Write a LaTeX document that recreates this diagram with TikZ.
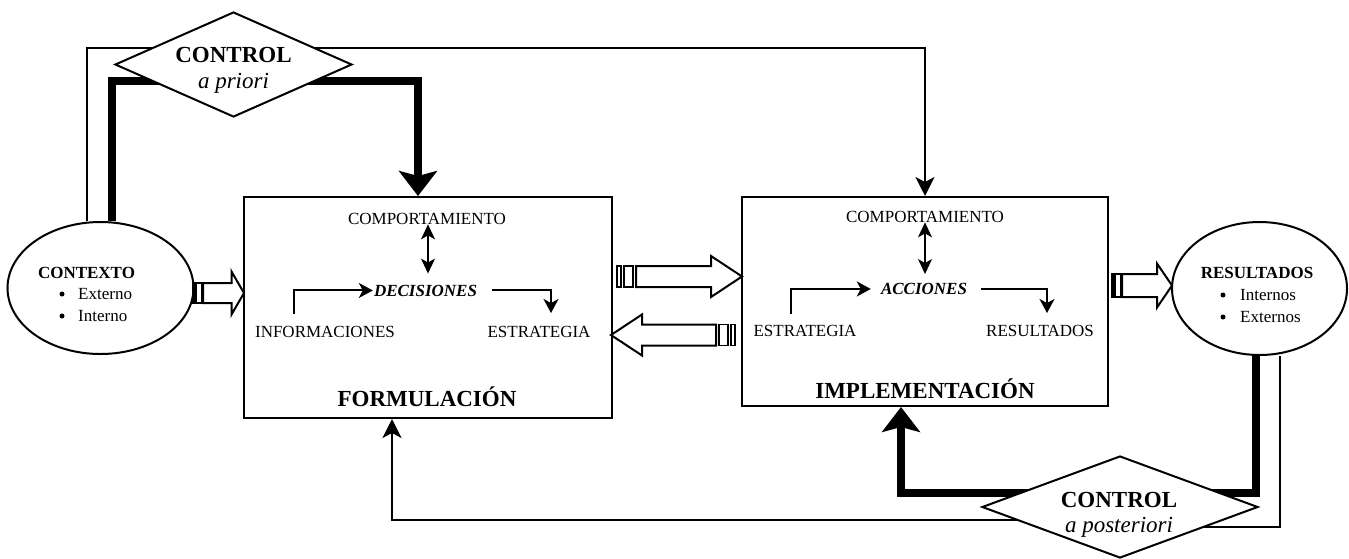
\documentclass[tikz,border=0pt]{standalone}
\usepackage{fontspec}
\setmainfont{Liberation Serif}
\usetikzlibrary{shapes.geometric,arrows.meta,calc}
\newcommand\blkarrow[9]{%
 \begin{scope}[shift={(#1,#2)},xscale=#3]
  \draw[line width=2pt,fill=white] (0,0) -- (-#4,#6) -- (-#4,#7) -- (-#5,#7) -- (-#5,-#7) -- (-#4,-#7) -- (-#4,-#6) -- cycle;
  \draw[line width=1.6pt,fill=white] ({-#5-0.75*#9},#7) rectangle ({-#5-0.75*#9-#8},-#7);
  \draw[line width=1.6pt,fill=white] ({-#5-1.5*#9-#8},#7) rectangle ({-#5-1.5*#9-#8-#9},-#7);
 \end{scope}}
\begin{document}
\begin{tikzpicture}[x=1pt,y=-1pt,
  txt/.style={inner sep=0pt, anchor=base, font=\fontsize{17}{20}\selectfont},
  bigtxt/.style={inner sep=0pt, anchor=base, font=\fontsize{23}{27}\selectfont},
  bul/.style={circle, fill=black, inner sep=0pt, minimum size=5pt},
  inarr/.style={line width=2pt, -{Stealth[width=15pt,length=14pt,inset=4pt]}},
  dblarr/.style={line width=1.3pt, {Stealth[width=14pt,length=15pt,inset=4pt]}-{Stealth[width=14pt,length=15pt,inset=4pt]}},
  longarr/.style={line width=2pt, -{Stealth[width=19pt,length=19pt,inset=5pt]}},
  bigarr/.style={line width=8pt, -{Stealth[width=38pt,length=25pt,inset=5pt]}},
  boxnode/.style={draw, line width=2pt, inner sep=0pt},
  ellnode/.style={draw, ellipse, line width=2pt, inner sep=0pt},
  dianode/.style={draw, diamond, fill=white, line width=2pt, inner sep=0pt},
]
\useasboundingbox (0,0) rectangle (1349,558);

% main shapes
\node[ellnode, minimum width=186pt, minimum height=132pt] (ctx) at (100.5,288) {};
\node[ellnode, minimum width=175pt, minimum height=133pt] (res) at (1259.5,288.5) {};
\node[boxnode, minimum width=368pt, minimum height=221pt] (form) at (428,307.5) {};
\node[boxnode, minimum width=366pt, minimum height=209pt] (impl) at (925,301.5) {};

% helper coordinates for the long connectors
\coordinate (tl) at (87,48);
\coordinate (tk) at (112,81);
\coordinate (bk) at (1256,493);
\coordinate (bt) at (1280,527);
\coordinate (bm) at (1120,520);
\coordinate (bl) at (392,520);

% long connectors
\draw[longarr] (ctx.north -| tl) -- (tl) -| (impl.north);
\draw[bigarr] (ctx.north -| tk) -- (tk) -| ($(form.north)+(-10,0)$);
\draw[bigarr] (res.south -| bk) -- (bk) -| ($(impl.south)+(-24,0)$);
\draw[longarr] (res.south -| bt) -- (bt) -| (bm) -- (bl) -- (form.south -| bl);

% diamonds
\node[dianode, minimum width=237pt, minimum height=105pt] (capri) at (233.5,64.5) {};
\node[dianode, minimum width=276pt, minimum height=102pt] (cpost) at (1120,507) {};
\node[bigtxt, font=\fontsize{23}{27}\selectfont\bfseries] (capri1) at (233.5,62.5) {CONTROL};
\node[bigtxt, font=\fontsize{23}{27}\selectfont\itshape] (capri2) at (233.5,88) {a priori};
\node[bigtxt, font=\fontsize{23}{27}\selectfont\bfseries] (cpost1) at (1119,507) {CONTROL};
\node[bigtxt, font=\fontsize{23}{27}\selectfont\itshape] (cpost2) at (1119,532) {a posteriori};

% block arrows
\blkarrow{244}{293}{1}{12.5}{41}{21.5}{10}{5}{2}
\blkarrow{742}{276.5}{1}{31}{106}{20.5}{10.5}{9}{4}
\blkarrow{611}{335}{-1}{31}{105}{20.5}{10.5}{9}{4}
\blkarrow{1172}{285.5}{1}{15}{50}{22}{11.5}{5}{2}

% CONTEXTO
\node[txt, font=\fontsize{17}{20}\selectfont\bfseries] (ctxt) at (86.5,278) {CONTEXTO};
\node[bul] (cb1) at (62,294) {};
\node[bul] (cb2) at (62,316) {};
\node[txt, anchor=base west] (cext) at (78,299) {Externo};
\node[txt, anchor=base west] (cint) at (78,321) {Interno};

% RESULTADOS ellipse
\node[txt, font=\fontsize{17}{20}\selectfont\bfseries] (rest) at (1257,278) {RESULTADOS};
\node[bul] (rb1) at (1223,295) {};
\node[bul] (rb2) at (1223,317) {};
\node[txt, anchor=base west] (rint) at (1240,300) {Internos};
\node[txt, anchor=base west] (rext) at (1240,322) {Externos};

% FORMULACION content
\node[txt] (comp1) at (427,224) {COMPORTAMIENTO};
\node[txt, font=\fontsize{17}{20}\selectfont\bfseries\itshape] (dec) at (425.5,296) {DECISIONES};
\node[txt] (info) at (325,337) {INFORMACIONES};
\node[txt] (est1) at (539,337) {ESTRATEGIA};
\node[bigtxt, font=\fontsize{23}{27}\selectfont\bfseries] (formt) at (427,406) {FORMULACIÓN};
\coordinate (f1) at (294,314);
\coordinate (f2) at (551,313);
\coordinate (d1) at ([xshift=1pt]comp1.south |- dec.north);
\draw[inarr] (f1) |- ([xshift=-1pt]dec.west);
\draw[inarr] ([xshift=15pt]dec.east) -| (f2);
\draw[dblarr] ([xshift=1pt]comp1.south) -- ([yshift=11pt]d1);

% IMPLEMENTACION content
\node[txt] (comp2) at (925,222) {COMPORTAMIENTO};
\node[txt, font=\fontsize{17}{20}\selectfont\bfseries\itshape] (acc) at (924,294.5) {ACCIONES};
\node[txt] (est2) at (805,336) {ESTRATEGIA};
\node[txt] (res2) at (1040,336) {RESULTADOS};
\node[bigtxt, font=\fontsize{23}{27}\selectfont\bfseries] (implt) at (925,398) {IMPLEMENTACIÓN};
\coordinate (i1) at (791,314);
\coordinate (i2) at (1047,313);
\coordinate (d2) at (comp2.south |- acc.north);
\draw[inarr] (i1) |- ([xshift=-10pt]acc.west);
\draw[inarr] ([xshift=14pt]acc.east) -| (i2);
\draw[dblarr] (comp2.south) -- ([yshift=9pt]d2);

\end{tikzpicture}
\end{document}
